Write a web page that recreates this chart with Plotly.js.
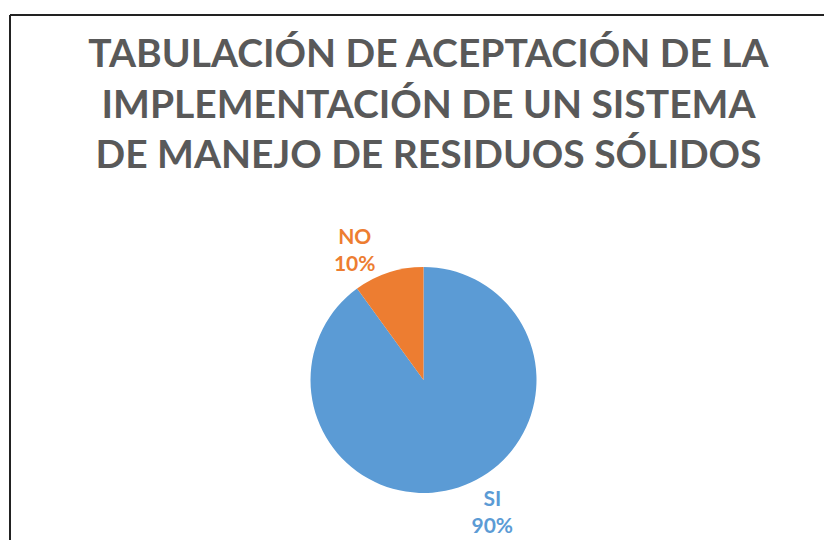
<!DOCTYPE html>
<html>
<head>
<meta charset="utf-8">
<script src="https://cdn.plot.ly/plotly-3.0.1.min.js"></script>
<style>html,body{margin:0;padding:0;background:#fff;}#chart{width:824px;height:540px;}</style>
</head>
<body>
<div id="chart"></div>
<script>
const categories = ['SI', 'NO'];
const values = [90, 10];
const sliceColors = ['#5B9BD5', '#ED7D31'];
const titleLines = ['TABULACIÓN DE ACEPTACIÓN DE LA', 'IMPLEMENTACIÓN DE UN SISTEMA', 'DE MANEJO DE RESIDUOS SÓLIDOS'];

const W = 824, H = 540;
const cx = 423.5, cy = 380, r = 113;

const trace = {
  type: 'pie',
  labels: categories,
  values: values,
  sort: false,
  direction: 'clockwise',
  rotation: 0,
  marker: {colors: sliceColors, line: {width: 0}},
  textposition: 'outside',
  texttemplate: '%{label}<br>%{percent:.0%}',
  outsidetextfont: {family: 'Lato, sans-serif', size: 21, color: sliceColors, weight: 'bold'},
  hoverinfo: 'none',
  showlegend: false,
  domain: {x: [(cx - r) / W, (cx + r) / W], y: [(H - cy - r) / H, (H - cy + r) / H]}
};

const layout = {
  width: W, height: H,
  margin: {l: 0, r: 0, t: 0, b: 0},
  paper_bgcolor: '#ffffff',
  showlegend: false,
  title: {
    text: titleLines.join('<br>'),
    font: {family: 'Lato, sans-serif', size: 39, color: '#595959', weight: 'bold'},
    x: 428.5 / W, xanchor: 'center',
    y: 1 - 67 / H, yref: 'container', yanchor: 'top'
  },
  shapes: [
    {type: 'line', xref: 'paper', yref: 'paper', x0: 10 / W, x1: 1, y0: 1 - 15 / H, y1: 1 - 15 / H, line: {color: '#222', width: 2}},
    {type: 'line', xref: 'paper', yref: 'paper', x0: 10 / W, x1: 10 / W, y0: 0, y1: 1 - 15 / H, line: {color: '#222', width: 2}}
  ]
};

Plotly.newPlot('chart', [trace], layout, {displayModeBar: false, staticPlot: true});
</script>
</body>
</html>
